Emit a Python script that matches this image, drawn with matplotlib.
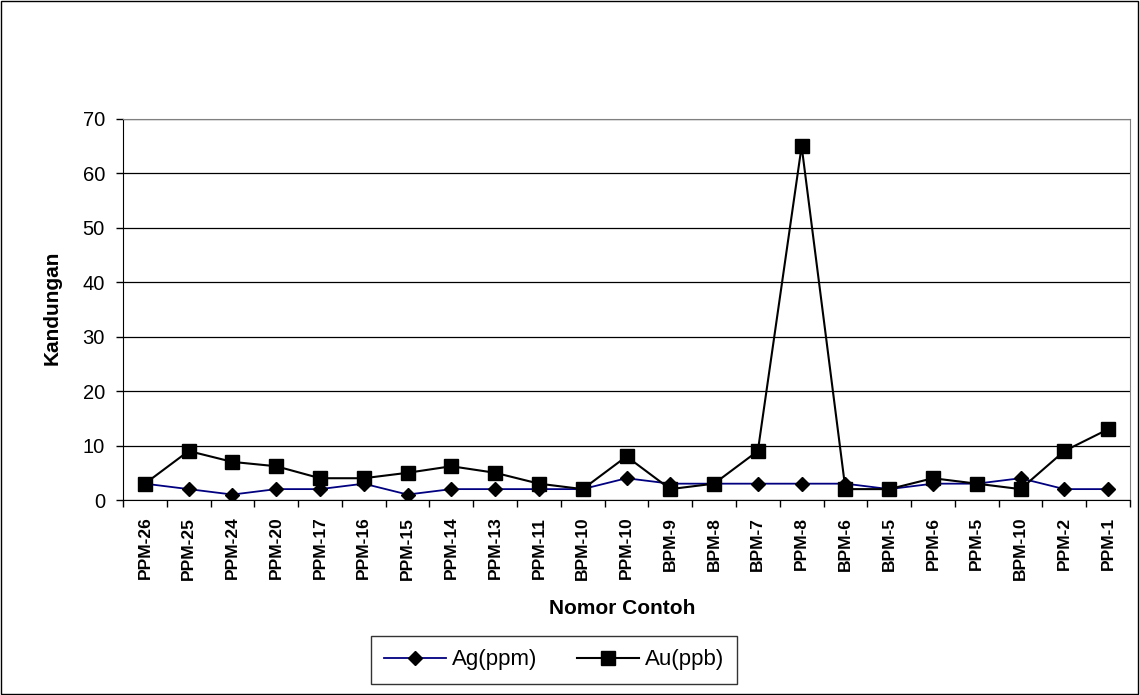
import matplotlib
matplotlib.use("Agg")
import matplotlib.pyplot as plt
from matplotlib.patches import Rectangle
import numpy as np

categories = ["PPM-26", "PPM-25", "PPM-24", "PPM-20", "PPM-17", "PPM-16", "PPM-15",
              "PPM-14", "PPM-13", "PPM-11", "BPM-10", "PPM-10", "BPM-9", "BPM-8",
              "BPM-7", "PPM-8", "BPM-6", "BPM-5", "PPM-6", "PPM-5", "BPM-10", "PPM-2", "PPM-1"]
ag_ppm = [3, 2, 1, 2, 2, 3, 1, 2, 2, 2, 2, 4, 3, 3, 3, 3, 3, 2, 3, 3, 4, 2, 2]
au_ppb = [3, 9, 7, 6.2, 4, 4, 5, 6.2, 5, 3, 2, 8, 2, 3, 9, 65, 2, 2, 4, 3, 2, 9, 13]
y_ticks = [0, 10, 20, 30, 40, 50, 60, 70]

plt.rcParams['font.family'] = ['Liberation Sans', 'DejaVu Sans']

W, H = 1140, 695
fig = plt.figure(figsize=(W / 100, H / 100), dpi=100)
ax = fig.add_axes([123/W, 1-500/H, (1130-123)/W, (500-119)/H])

x = np.arange(len(categories))
ax.plot(x, ag_ppm, color='#000080', lw=1.3, marker='D', ms=7, mfc='black', mec='black',
        label='Ag(ppm)', zorder=3)
ax.plot(x, au_ppb, color='black', lw=1.5, marker='s', ms=10, mfc='black', mec='black',
        label='Au(ppb)', zorder=4)

ax.set_xlim(-0.5, len(categories) - 0.5)
ax.set_ylim(0, 70)
ax.set_yticks(y_ticks)
ax.set_yticklabels([str(v) for v in y_ticks], fontsize=14.5)
ax.yaxis.grid(True, color='black', lw=0.9)
ax.set_axisbelow(True)

ax.set_xticks(x)
ax.set_xticklabels(categories, rotation=90, fontsize=12.5, fontweight='bold')
ax.tick_params(axis='x', which='major', length=0, pad=12)
ax.set_xticks(np.arange(-0.5, len(categories)), minor=True)
ax.tick_params(axis='x', which='minor', length=5, direction='out', width=1)
ax.tick_params(axis='y', length=5, direction='out', width=1, pad=8)

ax.spines['top'].set_color('#808080')
ax.spines['right'].set_color('#808080')
ax.spines['left'].set_color('black')
ax.spines['bottom'].set_color('black')

fig.text(622/W, 1-608/H, 'Nomor Contoh', fontsize=15, fontweight='bold',
         ha='center', va='center')
fig.text(52/W, 1-308/H, 'Kandungan', fontsize=15, fontweight='bold',
         ha='center', va='center', rotation=90)

leg = fig.legend(loc='center', bbox_to_anchor=(554/W, 1-660/H), ncol=2, fontsize=16,
                 frameon=True, fancybox=False, edgecolor='black', borderpad=0.6,
                 handlelength=2.8, columnspacing=1.8, handletextpad=0.25)
leg.get_frame().set_linewidth(1.0)

fig.patches.append(Rectangle((0.001, 0.001), 0.997, 0.997, transform=fig.transFigure,
                             fill=False, edgecolor='black', lw=1))

fig.savefig('out.png', dpi=100)
